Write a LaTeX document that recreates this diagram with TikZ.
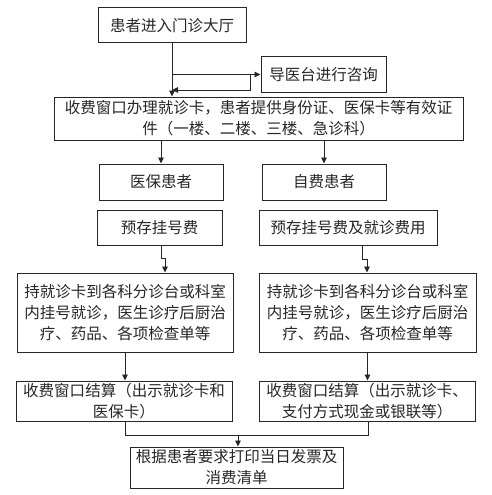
\documentclass[tikz,border=0pt]{standalone}
\usepackage{fontspec}
\newfontfamily\cjk{Noto Sans CJK SC}
\usetikzlibrary{arrows.meta}
\begin{document}
\begin{tikzpicture}[x=1pt,y=-1pt,
  box/.style={draw=black!85,line width=1pt,inner sep=0pt,align=center,
    font=\cjk\fontsize{15.5pt}{21pt}\selectfont,text=black!85},
  conn/.style={line width=0.9pt,draw=black!85},
  arr/.style={conn,-{Triangle[length=6pt,width=5.5pt]}}]
\useasboundingbox (0,0) rectangle (492,495);
\node[box,minimum width=148pt,minimum height=35pt] (n1) at (172,25.5) {患者进入门诊大厅};
\node[box,minimum width=125pt,minimum height=35pt] (guide) at (323.5,74.5) {导医台进行咨询};
\node[box,minimum width=409pt,minimum height=43pt] (big) at (258.5,118.5) {收费窗口办理就诊卡，患者提供身份证、医保卡等有效证\\件（一楼、二楼、三楼、急诊科）};
\node[box,minimum width=124pt,minimum height=36pt] (yb) at (161,182) {医保患者};
\node[box,minimum width=124pt,minimum height=36pt] (zf) at (324,182) {自费患者};
\node[box,minimum width=125pt,minimum height=35pt] (yc1) at (159.5,227.5) {预存挂号费};
\node[box,minimum width=178pt,minimum height=35pt] (yc2) at (348,227.5) {预存挂号费及就诊费用};
\node[box,minimum width=216pt,minimum height=79pt] (j1) at (125,312.5) {持就诊卡到各科分诊台或科室\\内挂号就诊，医生诊疗后厨治\\疗、药品、各项检查单等};
\node[box,minimum width=217pt,minimum height=79pt] (j2) at (367.5,312.5) {持就诊卡到各科分诊台或科室\\内挂号就诊，医生诊疗后厨治\\疗、药品、各项检查单等};
\node[box,minimum width=216pt,minimum height=40pt] (s1) at (124,401) {收费窗口结算（出示就诊卡和\\医保卡）};
\node[box,minimum width=216pt,minimum height=40pt] (s2) at (367,401) {收费窗口结算（出示就诊卡、\\支付方式现金或银联等）};
\node[box,minimum width=213pt,minimum height=41pt] (fin) at (236.5,467.5) {根据患者要求打印当日发票及\\消费清单};
% top connectors
\draw[arr] (n1.south) -- (n1.south |- big.north);
\draw[arr] (n1.south |- guide.west) -- (guide.west);
\coordinate (r1) at (250,74);
\coordinate (r2) at (250,90);
\draw[arr] (r1) -- (r2) -- (r2 -| n1.south);
% big to two categories
\draw[arr] (big.south -| yb.north) -- (yb.north);
\draw[arr] (big.south -| zf.north) -- (zf.north);
% zigzags
\coordinate (z1a) at (161,258);
\coordinate (z1b) at (165,258);
\draw[arr] (yc1.south -| z1a) -- (z1a) -- (z1b) -- (z1b |- j1.north);
\coordinate (z2a) at (362,259);
\coordinate (z2b) at (367,259);
\draw[arr] (yc2.south -| z2a) -- (z2a) -- (z2b) -- (z2b |- j2.north);
% to settlement
\draw[arr] (j1.south) -- (s1.north -| j1.south);
\draw[arr] (j2.south) -- (s2.north -| j2.south);
% merge
\coordinate (m1) at (125,435);
\coordinate (m2) at (368,435);
\coordinate (mc) at (238,435);
\draw[conn] (s1.south -| m1) -- (m1) -- (m2) -- (s2.south -| m2);
\draw[arr] (mc) -- (mc |- fin.north);
\end{tikzpicture}
\end{document}
